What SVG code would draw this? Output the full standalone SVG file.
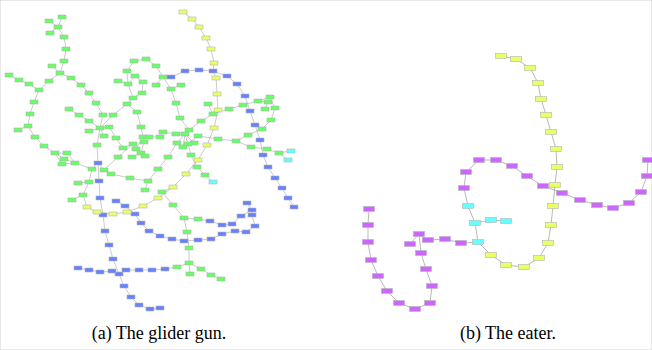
<svg xmlns="http://www.w3.org/2000/svg" width="652" height="350" viewBox="0 0 652 350">
<style>
rect{stroke:#b4b4b4;stroke-width:0.6}
.s{width:8px;height:4px}
.r{width:11px;height:5px}
.g{fill:#66ff66}.b{fill:#6680ff}.y{fill:#e8ff66}.c{fill:#66ffff}.m{fill:#cc66ff}
.e{fill:none;stroke:#a8a8a8;stroke-width:0.6}
.e2{fill:none;stroke:#999;stroke-width:0.7}
text{font-family:"Liberation Serif","Times New Roman",serif;font-size:18px;fill:#000}
</style>
<rect x="0" y="0" width="652" height="350" fill="#fff" stroke="none"/>
<g id="connectors">
<path class="e" d="M62 17L58 27M49 21L58 27M50 33L58 27L64 37L66 49L64 61L60 73M52 66L60 73L49 81L39 90L29 84L19 80L9 75M39 90L34 102L30 114L28 126L18 130M28 126L35 137L44 146L55 153L67 153L75 163M55 153L64 159L75 163M55 153L62 164L75 163L92 169
M60 73L71 78L81 85L89 93L96 103L103 115L100 128M69 109L79 115L89 121L100 128M113 115L100 128M113 115L127 104L133 98L128 84L118 81M128 84L127 71L134 61L146 59L156 66L163 77M135 76L143 82L142 93L133 98M135 76L128 84M127 104L137 112L141 127M156 85L163 77L171 77M163 77L171 89L181 85M171 89L176 103L180 118L189 130
M100 128L89 131M100 128L109 127L116 138L123 148L133 144M100 128L104 136M100 128L97 145L98 163L99 181M92 169L98 163M104 170L98 163M104 170L111 174L130 178L148 181L145 190M148 181L158 169L168 157L177 143M104 170L118 157L133 144L136 149L141 153L145 156M132 157L141 153M144 142L141 153M144 142L143 137M136 149L143 137M141 127L143 137L149 137L160 137L163 132L176 134L185 134L189 130M185 134L177 143M185 134L183 147M185 134L188 144M185 134L194 143M188 144L191 155L197 167L205 175L213 182
M189 130L201 121L213 114L229 109L243 105L258 101L270 97L275 108L271 120L262 129L248 135L236 141L218 139L198 136L188 144M208 104L213 114M258 101L268 102L265 109M236 141L251 147L267 149L279 153L291 151M279 153L288 160
M92 169L89 182L78 183M89 182L83 195L72 200M83 195L87 207L97 212L113 214L127 212L143 206L158 198L173 187L186 174L198 160L207 145L214 128L218 110L217 94L216 78L213 71M214 63L213 71M214 63L211 49L206 38L199 27L192 19L183 12
M173 187L162 192L173 205L184 218L187 232L189 248L189 263L177 267L165 269L152 270L139 270L126 270L119 274M112 271L119 274M112 271L100 272L89 270L78 268M189 263L190 274M189 263L201 269L211 275L221 279
M184 218L198 219L210 221L222 225L232 224L241 216L252 210L247 203M252 210L252 215L255 226L246 232L235 231L222 234L211 239L198 240L184 241L172 239L160 236L149 231L141 223L135 214L125 206L116 201
M99 181L100 198L103 215L105 231L109 245L113 259L119 274L124 286L131 297L139 305L150 309L160 308
M171 77L185 71L199 70L213 71L227 76L237 84L245 96L250 111L255 125L260 140L263 155L268 167L275 178L282 188L288 198L294 207"/>
<path class="e2" d="M648 160L647 176L641 192L629 203L613 208L597 205L580 200L562 193L543 186L527 176L512 166L496 160L479 160L466 172L464 188L468 206L475 223L478 242L461 243L445 239L428 240L419 234L410 244M419 234L421 253L426 269L432 286L430 303L415 309L399 303L387 291L378 276L371 260L368 242L368 225L369 209
M475 223L491 220L506 221M478 242L491 255L506 265L524 267L539 258L548 243L551 225L553 206L555 185L557 167L556 149L551 132L546 115L541 99L538 83L530 68L516 59L501 56"/>
</g>
<g id="gliderGun">
<g id="g1"><rect class="s g" x="58" y="15"/></g>
<g id="g2"><rect class="s g" x="45" y="19"/></g>
<g id="g3"><rect class="s g" x="54" y="25"/></g>
<g id="g4"><rect class="s g" x="46" y="31"/></g>
<g id="g5"><rect class="s g" x="60" y="35"/></g>
<g id="g6"><rect class="s g" x="62" y="47"/></g>
<g id="g7"><rect class="s g" x="60" y="59"/></g>
<g id="g8"><rect class="s g" x="48" y="64"/></g>
<g id="g9"><rect class="s g" x="56" y="71"/></g>
<g id="g10"><rect class="s g" x="5" y="73"/></g>
<g id="g11"><rect class="s g" x="15" y="78"/></g>
<g id="g12"><rect class="s g" x="25" y="82"/></g>
<g id="g13"><rect class="s g" x="45" y="79"/></g>
<g id="g14"><rect class="s g" x="67" y="76"/></g>
<g id="g15"><rect class="s g" x="77" y="83"/></g>
<g id="g16"><rect class="s g" x="35" y="88"/></g>
<g id="g17"><rect class="s g" x="85" y="91"/></g>
<g id="g18"><rect class="s g" x="30" y="100"/></g>
<g id="g19"><rect class="s g" x="92" y="101"/></g>
<g id="g20"><rect class="s g" x="65" y="107"/></g>
<g id="g21"><rect class="s g" x="75" y="113"/></g>
<g id="g22"><rect class="s g" x="26" y="112"/></g>
<g id="g23"><rect class="s g" x="99" y="113"/></g>
<g id="g24"><rect class="s g" x="109" y="113"/></g>
<g id="g25"><rect class="s g" x="85" y="119"/></g>
<g id="g26"><rect class="s g" x="123" y="102"/></g>
<g id="g27"><rect class="s g" x="133" y="110"/></g>
<g id="g28"><rect class="s g" x="129" y="96"/></g>
<g id="g29"><rect class="s g" x="138" y="91"/></g>
<g id="g30"><rect class="s g" x="124" y="82"/></g>
<g id="g31"><rect class="s g" x="114" y="79"/></g>
<g id="g32"><rect class="s g" x="131" y="74"/></g>
<g id="g33"><rect class="s g" x="139" y="80"/></g>
<g id="g34"><rect class="s g" x="123" y="69"/></g>
<g id="g35"><rect class="s g" x="130" y="59"/></g>
<g id="g36"><rect class="s g" x="142" y="57"/></g>
<g id="g37"><rect class="s g" x="152" y="64"/></g>
<g id="g38"><rect class="s g" x="152" y="83"/></g>
<g id="g39"><rect class="s g" x="24" y="124"/></g>
<g id="g40"><rect class="s g" x="14" y="128"/></g>
<g id="g41"><rect class="s g" x="31" y="135"/></g>
<g id="g42"><rect class="s g" x="40" y="144"/></g>
<g id="g43"><rect class="s g" x="96" y="126"/></g>
<g id="g44"><rect class="s g" x="85" y="129"/></g>
<g id="g45"><rect class="s g" x="105" y="125"/></g>
<g id="g46"><rect class="s g" x="100" y="134"/></g>
<g id="g47"><rect class="s g" x="112" y="136"/></g>
<g id="g48"><rect class="s g" x="93" y="143"/></g>
<g id="g49"><rect class="s g" x="119" y="146"/></g>
<g id="g50"><rect class="s g" x="137" y="125"/></g>
<g id="g51"><rect class="s g" x="139" y="135"/></g>
<g id="g52"><rect class="s g" x="145" y="135"/></g>
<g id="g53"><rect class="s g" x="156" y="135"/></g>
<g id="g54"><rect class="s g" x="129" y="142"/></g>
<g id="g55"><rect class="s g" x="132" y="147"/></g>
<g id="g56"><rect class="s g" x="128" y="155"/></g>
<g id="g57"><rect class="s g" x="137" y="151"/></g>
<g id="g58"><rect class="s g" x="141" y="154"/></g>
<g id="g59"><rect class="s g" x="140" y="140"/></g>
<g id="g60"><rect class="s g" x="114" y="155"/></g>
<g id="g61"><rect class="s g" x="51" y="151"/></g>
<g id="g62"><rect class="s g" x="63" y="151"/></g>
<g id="g63"><rect class="s g" x="60" y="157"/></g>
<g id="g64"><rect class="s g" x="58" y="162"/></g>
<g id="g65"><rect class="s g" x="71" y="161"/></g>
<g id="g66"><rect class="s g" x="88" y="167"/></g>
<g id="g67"><rect class="s g" x="100" y="168"/></g>
<g id="g68"><rect class="s g" x="107" y="172"/></g>
<g id="g69"><rect class="s g" x="85" y="180"/></g>
<g id="g70"><rect class="s g" x="74" y="181"/></g>
<g id="g71"><rect class="s g" x="79" y="193"/></g>
<g id="g72"><rect class="s g" x="68" y="198"/></g>
<g id="g73"><rect class="s g" x="126" y="176"/></g>
<g id="g74"><rect class="s g" x="144" y="179"/></g>
<g id="g75"><rect class="s g" x="141" y="188"/></g>
<g id="g76"><rect class="s g" x="154" y="167"/></g>
<g id="g77"><rect class="s g" x="159" y="75"/></g>
<g id="g78"><rect class="s g" x="167" y="87"/></g>
<g id="g79"><rect class="s g" x="177" y="83"/></g>
<g id="g80"><rect class="s g" x="172" y="101"/></g>
<g id="g81"><rect class="s g" x="176" y="116"/></g>
<g id="g82"><rect class="s g" x="204" y="102"/></g>
<g id="g83"><rect class="s g" x="209" y="112"/></g>
<g id="g84"><rect class="s g" x="225" y="107"/></g>
<g id="g85"><rect class="s g" x="239" y="103"/></g>
<g id="g86"><rect class="s g" x="254" y="99"/></g>
<g id="g87"><rect class="s g" x="266" y="95"/></g>
<g id="g88"><rect class="s g" x="264" y="100"/></g>
<g id="g89"><rect class="s g" x="261" y="107"/></g>
<g id="g90"><rect class="s g" x="271" y="106"/></g>
<g id="g91"><rect class="s g" x="267" y="118"/></g>
<g id="g92"><rect class="s g" x="258" y="127"/></g>
<g id="g93"><rect class="s g" x="244" y="133"/></g>
<g id="g94"><rect class="s g" x="232" y="139"/></g>
<g id="g95"><rect class="s g" x="247" y="145"/></g>
<g id="g96"><rect class="s g" x="263" y="147"/></g>
<g id="g97"><rect class="s g" x="275" y="151"/></g>
<g id="g98"><rect class="s g" x="214" y="137"/></g>
<g id="g99"><rect class="s g" x="194" y="134"/></g>
<g id="g100"><rect class="s g" x="197" y="119"/></g>
<g id="g101"><rect class="s g" x="185" y="128"/></g>
<g id="g102"><rect class="s g" x="181" y="132"/></g>
<g id="g103"><rect class="s g" x="172" y="132"/></g>
<g id="g104"><rect class="s g" x="159" y="130"/></g>
<g id="g105"><rect class="s g" x="173" y="141"/></g>
<g id="g106"><rect class="s g" x="179" y="145"/></g>
<g id="g107"><rect class="s g" x="190" y="141"/></g>
<g id="g108"><rect class="s g" x="184" y="142"/></g>
<g id="g109"><rect class="s g" x="187" y="153"/></g>
<g id="g110"><rect class="s g" x="164" y="155"/></g>
<g id="g111"><rect class="s g" x="193" y="165"/></g>
<g id="g112"><rect class="s g" x="201" y="173"/></g>
<g id="g113"><rect class="s g" x="158" y="190"/></g>
<g id="g114"><rect class="s g" x="169" y="203"/></g>
<g id="g115"><rect class="s g" x="180" y="216"/></g>
<g id="g116"><rect class="s g" x="194" y="217"/></g>
<g id="g117"><rect class="s g" x="183" y="230"/></g>
<g id="g118"><rect class="s g" x="185" y="246"/></g>
<g id="g119"><rect class="s g" x="185" y="261"/></g>
<g id="g120"><rect class="s g" x="197" y="267"/></g>
<g id="g121"><rect class="s g" x="207" y="273"/></g>
<g id="g122"><rect class="s g" x="217" y="277"/></g>
<g id="g123"><rect class="s g" x="186" y="272"/></g>
<g id="g124"><rect class="s g" x="173" y="265"/></g>
<g id="b1"><rect class="s b" x="94" y="161"/></g>
<g id="b2"><rect class="s b" x="95" y="179"/></g>
<g id="b3"><rect class="s b" x="96" y="196"/></g>
<g id="b4"><rect class="s b" x="99" y="213"/></g>
<g id="b5"><rect class="s b" x="101" y="229"/></g>
<g id="b6"><rect class="s b" x="105" y="243"/></g>
<g id="b7"><rect class="s b" x="109" y="257"/></g>
<g id="b8"><rect class="s b" x="115" y="272"/></g>
<g id="b9"><rect class="s b" x="120" y="284"/></g>
<g id="b10"><rect class="s b" x="127" y="295"/></g>
<g id="b11"><rect class="s b" x="135" y="303"/></g>
<g id="b12"><rect class="s b" x="146" y="307"/></g>
<g id="b13"><rect class="s b" x="156" y="306"/></g>
<g id="b14"><rect class="s b" x="74" y="266"/></g>
<g id="b15"><rect class="s b" x="85" y="268"/></g>
<g id="b16"><rect class="s b" x="96" y="270"/></g>
<g id="b17"><rect class="s b" x="108" y="269"/></g>
<g id="b18"><rect class="s b" x="122" y="268"/></g>
<g id="b19"><rect class="s b" x="135" y="268"/></g>
<g id="b20"><rect class="s b" x="148" y="268"/></g>
<g id="b21"><rect class="s b" x="161" y="267"/></g>
<g id="b22"><rect class="s b" x="112" y="199"/></g>
<g id="b23"><rect class="s b" x="121" y="204"/></g>
<g id="b24"><rect class="s b" x="131" y="212"/></g>
<g id="b25"><rect class="s b" x="137" y="221"/></g>
<g id="b26"><rect class="s b" x="145" y="229"/></g>
<g id="b27"><rect class="s b" x="156" y="234"/></g>
<g id="b28"><rect class="s b" x="168" y="237"/></g>
<g id="b29"><rect class="s b" x="180" y="239"/></g>
<g id="b30"><rect class="s b" x="194" y="238"/></g>
<g id="b31"><rect class="s b" x="207" y="237"/></g>
<g id="b32"><rect class="s b" x="218" y="232"/></g>
<g id="b33"><rect class="s b" x="231" y="229"/></g>
<g id="b34"><rect class="s b" x="242" y="230"/></g>
<g id="b35"><rect class="s b" x="251" y="224"/></g>
<g id="b36"><rect class="s b" x="248" y="213"/></g>
<g id="b37"><rect class="s b" x="206" y="219"/></g>
<g id="b38"><rect class="s b" x="218" y="223"/></g>
<g id="b39"><rect class="s b" x="228" y="222"/></g>
<g id="b40"><rect class="s b" x="237" y="214"/></g>
<g id="b41"><rect class="s b" x="248" y="208"/></g>
<g id="b42"><rect class="s b" x="243" y="201"/></g>
<g id="b43"><rect class="s b" x="167" y="75"/></g>
<g id="b44"><rect class="s b" x="181" y="69"/></g>
<g id="b45"><rect class="s b" x="195" y="68"/></g>
<g id="b46"><rect class="s b" x="209" y="69"/></g>
<g id="b47"><rect class="s b" x="223" y="74"/></g>
<g id="b48"><rect class="s b" x="233" y="82"/></g>
<g id="b49"><rect class="s b" x="241" y="94"/></g>
<g id="b50"><rect class="s b" x="246" y="109"/></g>
<g id="b51"><rect class="s b" x="251" y="123"/></g>
<g id="b52"><rect class="s b" x="256" y="138"/></g>
<g id="b53"><rect class="s b" x="259" y="153"/></g>
<g id="b54"><rect class="s b" x="264" y="165"/></g>
<g id="b55"><rect class="s b" x="271" y="176"/></g>
<g id="b56"><rect class="s b" x="278" y="186"/></g>
<g id="b57"><rect class="s b" x="284" y="196"/></g>
<g id="b58"><rect class="s b" x="290" y="205"/></g>
<g id="y1"><rect class="s y" x="179" y="10"/></g>
<g id="y2"><rect class="s y" x="188" y="17"/></g>
<g id="y3"><rect class="s y" x="195" y="25"/></g>
<g id="y4"><rect class="s y" x="202" y="36"/></g>
<g id="y5"><rect class="s y" x="207" y="47"/></g>
<g id="y6"><rect class="s y" x="210" y="61"/></g>
<g id="y7"><rect class="s y" x="212" y="76"/></g>
<g id="y8"><rect class="s y" x="213" y="92"/></g>
<g id="y9"><rect class="s y" x="214" y="108"/></g>
<g id="y10"><rect class="s y" x="210" y="126"/></g>
<g id="y11"><rect class="s y" x="203" y="143"/></g>
<g id="y12"><rect class="s y" x="194" y="158"/></g>
<g id="y13"><rect class="s y" x="182" y="172"/></g>
<g id="y14"><rect class="s y" x="169" y="185"/></g>
<g id="y15"><rect class="s y" x="154" y="196"/></g>
<g id="y16"><rect class="s y" x="139" y="204"/></g>
<g id="y17"><rect class="s y" x="123" y="210"/></g>
<g id="y18"><rect class="s y" x="109" y="212"/></g>
<g id="y19"><rect class="s y" x="93" y="210"/></g>
<g id="y20"><rect class="s y" x="83" y="205"/></g>
<g id="c1"><rect class="s c" x="287" y="149"/></g>
<g id="c2"><rect class="s c" x="284" y="158"/></g>
<g id="c3"><rect class="s c" x="209" y="180"/></g>
</g>
<g id="eater">
<g id="m1"><rect class="r m" x="642.5" y="157.5"/></g>
<g id="m2"><rect class="r m" x="641.5" y="173.5"/></g>
<g id="m3"><rect class="r m" x="635.5" y="189.5"/></g>
<g id="m4"><rect class="r m" x="623.5" y="200.5"/></g>
<g id="m5"><rect class="r m" x="607.5" y="205.5"/></g>
<g id="m6"><rect class="r m" x="591.5" y="202.5"/></g>
<g id="m7"><rect class="r m" x="574.5" y="197.5"/></g>
<g id="m8"><rect class="r m" x="556.5" y="190.5"/></g>
<g id="m9"><rect class="r m" x="537.5" y="183.5"/></g>
<g id="m10"><rect class="r m" x="521.5" y="173.5"/></g>
<g id="m11"><rect class="r m" x="506.5" y="163.5"/></g>
<g id="m12"><rect class="r m" x="490.5" y="157.5"/></g>
<g id="m13"><rect class="r m" x="473.5" y="157.5"/></g>
<g id="m14"><rect class="r m" x="460.5" y="169.5"/></g>
<g id="m15"><rect class="r m" x="458.5" y="185.5"/></g>
<g id="m16"><rect class="r m" x="455.5" y="240.5"/></g>
<g id="m17"><rect class="r m" x="439.5" y="236.5"/></g>
<g id="m18"><rect class="r m" x="422.5" y="237.5"/></g>
<g id="m19"><rect class="r m" x="413.5" y="231.5"/></g>
<g id="m20"><rect class="r m" x="404.5" y="241.5"/></g>
<g id="m21"><rect class="r m" x="415.5" y="250.5"/></g>
<g id="m22"><rect class="r m" x="420.5" y="266.5"/></g>
<g id="m23"><rect class="r m" x="426.5" y="283.5"/></g>
<g id="m24"><rect class="r m" x="424.5" y="300.5"/></g>
<g id="m25"><rect class="r m" x="409.5" y="306.5"/></g>
<g id="m26"><rect class="r m" x="393.5" y="300.5"/></g>
<g id="m27"><rect class="r m" x="381.5" y="288.5"/></g>
<g id="m28"><rect class="r m" x="372.5" y="273.5"/></g>
<g id="m29"><rect class="r m" x="365.5" y="257.5"/></g>
<g id="m30"><rect class="r m" x="362.5" y="239.5"/></g>
<g id="m31"><rect class="r m" x="362.5" y="222.5"/></g>
<g id="m32"><rect class="r m" x="363.5" y="206.5"/></g>
<g id="ec1"><rect class="r c" x="462.5" y="203.5"/></g>
<g id="ec2"><rect class="r c" x="469.5" y="220.5"/></g>
<g id="ec3"><rect class="r c" x="485.5" y="217.5"/></g>
<g id="ec4"><rect class="r c" x="500.5" y="218.5"/></g>
<g id="ec5"><rect class="r c" x="472.5" y="239.5"/></g>
<g id="ey1"><rect class="r y" x="495.5" y="53.5"/></g>
<g id="ey2"><rect class="r y" x="510.5" y="56.5"/></g>
<g id="ey3"><rect class="r y" x="524.5" y="65.5"/></g>
<g id="ey4"><rect class="r y" x="532.5" y="80.5"/></g>
<g id="ey5"><rect class="r y" x="535.5" y="96.5"/></g>
<g id="ey6"><rect class="r y" x="540.5" y="112.5"/></g>
<g id="ey7"><rect class="r y" x="545.5" y="129.5"/></g>
<g id="ey8"><rect class="r y" x="550.5" y="146.5"/></g>
<g id="ey9"><rect class="r y" x="551.5" y="164.5"/></g>
<g id="ey10"><rect class="r y" x="549.5" y="182.5"/></g>
<g id="ey11"><rect class="r y" x="547.5" y="203.5"/></g>
<g id="ey12"><rect class="r y" x="545.5" y="222.5"/></g>
<g id="ey13"><rect class="r y" x="542.5" y="240.5"/></g>
<g id="ey14"><rect class="r y" x="533.5" y="255.5"/></g>
<g id="ey15"><rect class="r y" x="518.5" y="264.5"/></g>
<g id="ey16"><rect class="r y" x="500.5" y="262.5"/></g>
<g id="ey17"><rect class="r y" x="485.5" y="252.5"/></g>
</g>
<g id="captions">
<text x="159" y="339" text-anchor="middle">(a) The glider gun.</text>
<text x="508" y="339" text-anchor="middle">(b) The eater.</text>
</g>
</svg>
